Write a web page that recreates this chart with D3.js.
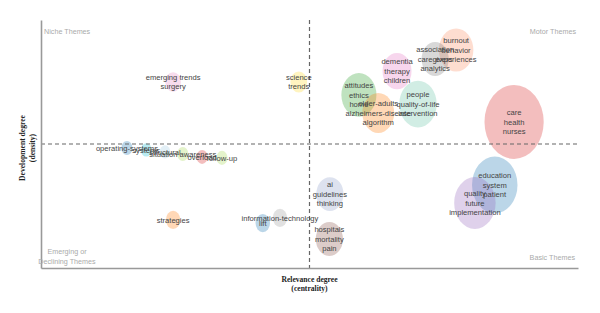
<!DOCTYPE html>
<html><head><meta charset="utf-8">
<script src="https://cdn.jsdelivr.net/npm/d3@7"></script>
<style>
html,body{margin:0;padding:0;background:#fff;}
svg{display:block;}
</style></head>
<body>
<svg id="chart" width="600" height="313"></svg>
<script>
// ---- data ----
const themes = [
  ["care","health","nurses"],
  ["education","system","patient"],
  ["quality","future","implementation"],
  ["people","quality-of-life","intervention"],
  ["attitudes","ethics","home"],
  ["burnout","behavior","experiences"],
  ["older-adults","alzheimers-disease","algorithm"],
  ["dementia","therapy","children"],
  ["association","caregivers","analytics"],
  ["ai","guidelines","thinking"],
  ["hospitals","mortality","pain"],
  ["science","trends"],
  ["emerging trends","surgery"],
  ["strategies"],
  ["information-technology"],
  ["lift"],
  ["operating-systems"],
  ["systems"],
  ["structural"],
  ["situation awareness"],
  ["overload"],
  ["follow-up"]
];
const centrality = [8.81, 8.45, 8.08, 7.02, 5.92, 7.73, 6.28, 6.63, 7.34, 5.38, 5.37, 4.80, 2.46, 2.46, 4.45, 4.13, 1.60, 1.96, 2.31, 2.64, 3.00, 3.37];
const density    = [5.89, 3.35, 2.62, 6.61, 6.98, 8.79, 6.25, 7.94, 8.43, 2.98, 1.17, 7.50, 7.50, 1.94, 2.02, 1.81, 4.84, 4.76, 4.68, 4.60, 4.48, 4.44];
const weight     = [100, 59, 49, 40, 35, 34, 29, 24, 21, 21, 21, 8, 7, 6, 6, 6, 3.6, 3.2, 3.2, 3.6, 3.6, 3.6];
const quadrantNames = ["Niche Themes", "Motor Themes", ["Emerging or","Declining Themes"], "Basic Themes"];
const xTitle = ["Relevance degree","(centrality)"];
const yTitle = ["Development degree","(density)"];

// ---- style ----
const palette = ["#d62728","#1f77b4","#9467bd","#66c2a5","#2ca02c","#fc8d62","#ff7f0e","#e377c2","#7f7f7f","#8da0cb","#8c564b","#ffd92f","#e78ac3","#ff7f0e","#9a9a9a","#1f77b4","#1f77b4","#17becf","#9ecae1","#a6d854","#d62728","#a6d854"];

const svg = d3.select("#chart");
const x = d3.scaleLinear().domain([0,10]).range([41,578]);
const y = d3.scaleLinear().domain([0,10]).range([268,20]);
const r = d3.scaleSqrt().domain([0,100]).range([0,37]);

const data = themes.map((t,i)=>({label:t, cx:centrality[i], cy:density[i], w:weight[i], c:palette[i]}));

// bubbles
svg.append("g").selectAll("ellipse").data(data).join("ellipse")
  .attr("cx", d=>x(d.cx)).attr("cy", d=>y(d.cy))
  .attr("rx", d=>r(d.w)*0.8).attr("ry", d=>r(d.w))
  .attr("fill", d=>d.c).attr("fill-opacity", 0.3).attr("stroke","none");

// dashed divider lines
svg.append("line").attr("x1", x(5)).attr("x2", x(5)).attr("y1", y(10)).attr("y2", y(0))
  .attr("stroke","#666").attr("stroke-width",1.2).attr("stroke-dasharray","4,3");
svg.append("line").attr("x1", x(0)).attr("x2", x(10)+2).attr("y1", y(5)).attr("y2", y(5))
  .attr("stroke","#666").attr("stroke-width",1.2).attr("stroke-dasharray","4,3");

// axes (no ticks)
const xAxis = svg.append("g").attr("transform",`translate(0,${y(0)})`)
  .call(d3.axisBottom(x).tickValues([]).tickSizeOuter(0));
const yAxis = svg.append("g").attr("transform",`translate(${x(0)},0)`)
  .call(d3.axisLeft(y).tickValues([]).tickSizeOuter(0));
svg.selectAll(".domain").attr("stroke","#999").attr("stroke-width",1.6);

// labels
const lh = 9.5;
const lg = svg.append("g").attr("font-family","Liberation Sans, Arial, sans-serif")
  .attr("font-size","7.6px").attr("fill","#444").attr("text-anchor","middle");
data.forEach(d=>{
  const n = d.label.length;
  d.label.forEach((s,k)=>{
    lg.append("text").attr("x", x(d.cx)).attr("y", y(d.cy) + (k-(n-1)/2)*lh)
      .attr("dy","0.35em").text(s);
  });
});

// quadrant names
const qg = svg.append("g").attr("font-family","Liberation Sans, Arial, sans-serif")
  .attr("font-size","7.2px").attr("fill","#aaa");
qg.append("text").attr("x", x(0)+3).attr("y", 34).text(quadrantNames[0]);
qg.append("text").attr("x", 576).attr("y", 34).attr("text-anchor","end").text(quadrantNames[1]);
qg.append("text").attr("x", 67).attr("y", 254).attr("text-anchor","middle").text(quadrantNames[2][0]);
qg.append("text").attr("x", 67).attr("y", 264).attr("text-anchor","middle").text(quadrantNames[2][1]);
qg.append("text").attr("x", 575).attr("y", 260).attr("text-anchor","end").text(quadrantNames[3]);

// axis titles
const tg = svg.append("g").attr("font-family","Liberation Serif, Times New Roman, serif")
  .attr("font-size","7.6px").attr("font-weight","bold").attr("fill","#222").attr("text-anchor","middle");
tg.append("text").attr("x", x(5)).attr("y", 282).text(xTitle[0]);
tg.append("text").attr("x", x(5)).attr("y", 291).text(xTitle[1]);
const yt = svg.append("g").attr("font-family","Liberation Serif, Times New Roman, serif")
  .attr("font-size","7.6px").attr("font-weight","bold").attr("fill","#222").attr("text-anchor","middle");
yt.append("text").attr("transform","translate(25,148) rotate(-90)").text(yTitle[0]);
yt.append("text").attr("transform","translate(35,148) rotate(-90)").text(yTitle[1]);
</script>
</body></html>
